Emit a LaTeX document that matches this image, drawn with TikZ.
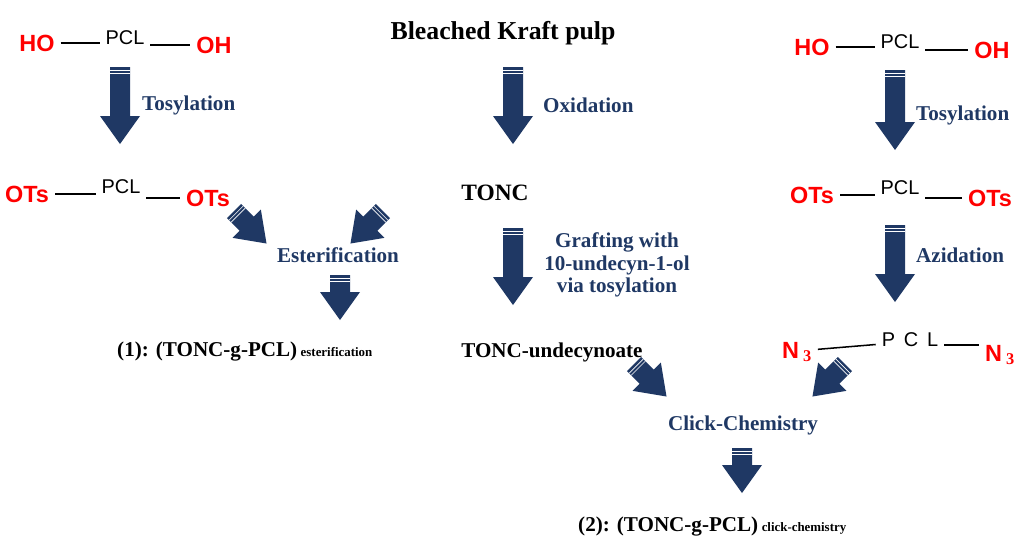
\documentclass[tikz,border=0pt]{standalone}
\usepackage{fontspec}
\setmainfont{Liberation Serif}
\newfontfamily\chemfont{Liberation Sans}
\definecolor{navy}{HTML}{1F3864}
\definecolor{chemred}{HTML}{FF0000}
% block arrow: tail point, angle, length
\newcommand{\blockarrow}[3]{%
  \begin{scope}[shift={#1},rotate=#2]
    \fill[navy] (0,-10) -- (#3-28,-10) -- (#3-28,-20) -- (#3,0) -- (#3-28,20) -- (#3-28,10) -- (0,10) -- cycle;
    \draw[white,line width=0.6pt] (3,-10) -- (3,10) (6,-10) -- (6,10);
  \end{scope}}
\begin{document}
\begin{tikzpicture}[x=0.03cm,y=-0.03cm]
%%%%%%%%%%%%%%%%%%%%%%%%%%%%%%%%%%%%%%%%%%%%%%%%%%%%%%%%
% STYLE
\tikzset{chem/.style={font=\chemfont\fontsize{20}{22}\selectfont\bfseries,text=chemred,inner sep=0pt}}
\tikzset{pcl/.style={font=\chemfont\fontsize{17}{19}\selectfont,inner sep=0pt}}
\tikzset{react/.style={font=\fontsize{18}{19}\selectfont\bfseries,text=navy,inner sep=0pt,align=center}}
\tikzset{prod/.style={font=\fontsize{18}{20}\selectfont\bfseries,inner sep=0pt}}
\tikzset{bond/.style={line width=1.3pt,shorten <=5pt,shorten >=5pt}}
\useasboundingbox (0,0) rectangle (1024,547);
%%%%%%%%%%%%%%%%%%%%%%%%%%%%%%%%%%%%%%%%%%%%%%%%%%%%%%%%
% NODES
\node[chem] (HOa) at (37,43) {HO};
\node[pcl] (PCLa) at (125,38) {PCL};
\node[chem] (OHa) at (214,45) {OH};
\node[chem] (OTsa) at (27,194) {OTs};
\node[pcl] (PCLb) at (121,187) {PCL};
\node[chem] (OTsb) at (208,198) {OTs};

\node[prod,font=\fontsize{22}{24}\selectfont\bfseries] (pulp) at (503,33) {Bleached Kraft pulp};
\node[prod,font=\fontsize{20}{22}\selectfont\bfseries] (TONC) at (495,193) {TONC};
\node[prod] (undec) at (552,352) {TONC-undecynoate};

\node[chem] (HOb) at (812,47) {HO};
\node[pcl] (PCLc) at (900,42) {PCL};
\node[chem] (OHb) at (992,50) {OH};
\node[chem] (OTsc) at (812,195) {OTs};
\node[pcl] (PCLd) at (900,188) {PCL};
\node[chem] (OTsd) at (990,198) {OTs};
\node[chem] (N3a) at (797,352) {N\,$_{\mathbf 3}$};
\node[pcl] (PCLe) at (910,340) {P\, C\, L};
\node[chem] (N3b) at (1000,355) {N\,$_{\mathbf 3}$};

\node[react,anchor=west] (tos1) at (142,105) {Tosylation};
\node[react,anchor=west] (oxi) at (543,105) {Oxidation};
\node[react] (ester) at (338,255) {Esterification};
\node[react] (graft) at (617,265) {Grafting with\\10-undecyn-1-ol\\via tosylation};
\node[react,anchor=west] (tos2) at (916,115) {Tosylation};
\node[react,anchor=west] (azi) at (916,255) {Azidation};
\node[react] (click) at (743,425) {Click-Chemistry};

\node[prod,anchor=west] (prod1) at (117,352) {(1): (TONC-g-PCL)\,{\fontsize{11}{12}\selectfont esterification}};
\node[prod,anchor=west] (prod2) at (578,527) {(2): (TONC-g-PCL)\,{\fontsize{11}{12}\selectfont click-chemistry}};
%%%%%%%%%%%%%%%%%%%%%%%%%%%%%%%%%%%%%%%%%%%%%%%%%%%%%%%%
% LINKS
\draw[bond] (HOa.east) -- (PCLa.west |- HOa.east);
\draw[bond] (PCLa.east |- OHa.west) -- (OHa.west);
\draw[bond] (OTsa.east) -- (PCLb.west |- OTsa.east);
\draw[bond] (PCLb.east |- OTsb.west) -- (OTsb.west);
\draw[bond] (HOb.east) -- (PCLc.west |- HOb.east);
\draw[bond] (PCLc.east |- OHb.west) -- (OHb.west);
\draw[bond] (OTsc.east) -- (PCLd.west |- OTsc.east);
\draw[bond] (PCLd.east |- OTsd.west) -- (OTsd.west);
\draw[bond] (N3a.north east) ++(0,8) -- (PCLe.west |- 0,344);
\draw[bond] (PCLe.east |- 0,345) -- (N3b.west |- 0,345);

\blockarrow{(120,67)}{-90}{77}
\blockarrow{(513,67)}{-90}{77}
\blockarrow{(895,70)}{-90}{80}
\blockarrow{(513,228)}{-90}{77}
\blockarrow{(895,225)}{-90}{77}
\blockarrow{(340,275)}{-90}{45}
\blockarrow{(742,448)}{-90}{45}
\blockarrow{(234,211)}{-45}{46}
\blockarrow{(383,211)}{-135}{46}
\blockarrow{(634,364)}{-45}{46}
\blockarrow{(845,364)}{-135}{46}
\end{tikzpicture}
\end{document}
